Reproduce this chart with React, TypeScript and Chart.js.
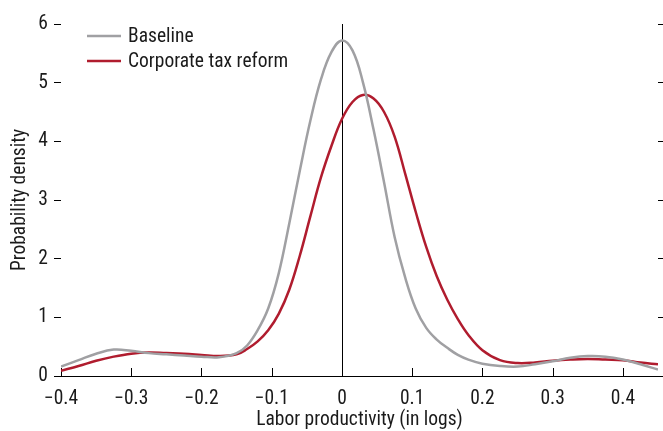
import React, { useEffect, useRef } from 'react';
import { Chart, registerables } from 'chart.js';

Chart.register(...registerables);

const xValues = [
  -0.4, -0.375, -0.35, -0.325, -0.3, -0.275, -0.25, -0.225, -0.2, -0.175, -0.15, -0.135, -0.12, -0.105,
  -0.09, -0.075, -0.06, -0.045, -0.03, -0.015, 0, 0.015, 0.03, 0.045, 0.06, 0.075, 0.09, 0.105, 0.12,
  0.135, 0.15, 0.165, 0.18, 0.2, 0.225, 0.25, 0.275, 0.3, 0.325, 0.35, 0.375, 0.4, 0.425, 0.45,
];
const baselineValues = [
  0.16, 0.27, 0.38, 0.45, 0.43, 0.39, 0.37, 0.35, 0.33, 0.32, 0.39, 0.52, 0.78, 1.15,
  1.75, 2.6, 3.5, 4.35, 5.05, 5.52, 5.72, 5.55, 5.0, 4.2, 3.3, 2.37, 1.68, 1.15, 0.82,
  0.62, 0.48, 0.36, 0.28, 0.21, 0.17, 0.16, 0.2, 0.25, 0.31, 0.34, 0.33, 0.28, 0.2, 0.11,
];
const reformValues = [
  0.09, 0.17, 0.26, 0.33, 0.38, 0.4, 0.39, 0.38, 0.36, 0.34, 0.37, 0.46, 0.59, 0.78,
  1.06, 1.47, 2.05, 2.72, 3.38, 3.92, 4.38, 4.67, 4.79, 4.73, 4.5, 4.08, 3.45, 2.8, 2.2,
  1.7, 1.3, 0.97, 0.7, 0.44, 0.27, 0.22, 0.23, 0.26, 0.28, 0.29, 0.28, 0.27, 0.23, 0.2,
];
const seriesLabels = ['Baseline', 'Corporate tax reform'];
const seriesColors = ['#a0a0a3', '#b01c2e'];
const xTickValues = [-0.4, -0.3, -0.2, -0.1, 0, 0.1, 0.2, 0.3, 0.4];
const xTickLabels = ['\u22120.4', '\u22120.3', '\u22120.2', '\u22120.1', '0', '0.1', '0.2', '0.3', '0.4'];
const yTickValues = [0, 1, 2, 3, 4, 5, 6];
const yTickLabels = ['0', '1', '2', '3', '4', '5', '6'];
const xTitle = 'Labor productivity (in logs)';
const yTitle = 'Probability density';

const TEXT = '#1a1a1a';

function pickFont(): { family: string; size: number } {
  const ctx = document.createElement('canvas').getContext('2d');
  const fallback = "'Liberation Sans', Arial, sans-serif";
  if (!ctx) return { family: fallback, size: 18 };
  const sample = 'Corporate tax reform 0123';
  const candidates = [
    'Liberation Sans Narrow',
    'Arial Narrow',
    'Roboto Condensed',
    'Noto Sans Condensed',
    'Open Sans Condensed',
    'DejaVu Sans Condensed',
  ];
  let family = fallback;
  for (const f of candidates) {
    ctx.font = '20px monospace';
    const w0 = ctx.measureText(sample).width;
    ctx.font = `20px "${f}", monospace`;
    const w1 = ctx.measureText(sample).width;
    if (Math.abs(w1 - w0) > 0.5) {
      family = `"${f}", ${fallback}`;
      break;
    }
  }
  ctx.font = `20px ${family}`;
  const w = ctx.measureText('Corporate tax reform').width;
  let size = (20 * 161) / w;
  size = Math.max(15, Math.min(20.5, size));
  size = Math.round(size * 2) / 2;
  return { family, size };
}

export default function App() {
  const ref = useRef<HTMLCanvasElement | null>(null);
  useEffect(() => {
    if (!ref.current) return;
    const { family, size } = pickFont();
    const font = { family, size };

    const decor = {
      id: 'decor',
      beforeDatasetsDraw(chart: any) {
        const { ctx, chartArea, scales } = chart;
        ctx.save();
        ctx.strokeStyle = '#000';
        ctx.lineWidth = 1;
        ctx.beginPath();
        const x0 = Math.round(scales.x.getPixelForValue(0)) + 0.5;
        ctx.moveTo(x0, chartArea.top);
        ctx.lineTo(x0, chartArea.bottom);
        scales.x.ticks.forEach((t: any) => {
          const px = Math.round(scales.x.getPixelForValue(t.value)) + 0.5;
          ctx.moveTo(px, chartArea.bottom);
          ctx.lineTo(px, chartArea.bottom - 8);
        });
        ctx.stroke();
        ctx.restore();
      },
      afterDraw(chart: any) {
        const { ctx, chartArea } = chart;
        ctx.save();
        chart.data.datasets.forEach((ds: any, i: number) => {
          const y = chartArea.top + 12 + i * 25;
          ctx.strokeStyle = ds.borderColor;
          ctx.lineWidth = 2.5;
          ctx.beginPath();
          ctx.moveTo(chartArea.left + 26, y);
          ctx.lineTo(chartArea.left + 60, y);
          ctx.stroke();
          ctx.fillStyle = TEXT;
          ctx.font = `${size}px ${family}`;
          ctx.textBaseline = 'middle';
          ctx.textAlign = 'left';
          ctx.fillText(ds.label, chartArea.left + 67, y + 1);
        });
        ctx.restore();
      },
    };

    const chart = new Chart(ref.current, {
      type: 'line',
      data: {
        datasets: [
          {
            label: seriesLabels[0],
            data: xValues.map((x, i) => ({ x, y: baselineValues[i] })),
            borderColor: seriesColors[0],
            borderWidth: 2.5,
            pointRadius: 0,
            tension: 0.4,
            fill: false,
          },
          {
            label: seriesLabels[1],
            data: xValues.map((x, i) => ({ x, y: reformValues[i] })),
            borderColor: seriesColors[1],
            borderWidth: 2.5,
            pointRadius: 0,
            tension: 0.4,
            fill: false,
          },
        ],
      },
      options: {
        responsive: false,
        animation: false,
        layout: { padding: { top: 24, left: 0, right: 0, bottom: 0 } },
        plugins: { legend: { display: false }, tooltip: { enabled: false } },
        scales: {
          x: {
            type: 'linear',
            min: -0.4,
            max: 0.45,
            afterFit: (s: any) => { s.height = 55; },
            afterBuildTicks: (s: any) => { s.ticks = xTickValues.map((v) => ({ value: v })); },
            ticks: {
              autoSkip: false,
              maxRotation: 0,
              padding: 11,
              color: TEXT,
              font,
              callback: (v: any) => {
                const i = xTickValues.findIndex((t) => Math.abs(t - Number(v)) < 1e-9);
                return i >= 0 ? xTickLabels[i] : '';
              },
            },
            grid: { display: false, drawTicks: false },
            border: { display: true, color: '#000', width: 1 },
            title: {
              display: true,
              text: xTitle,
              color: TEXT,
              font,
              padding: { top: 0, bottom: -1 },
            },
          },
          y: {
            type: 'linear',
            position: 'left',
            min: 0,
            max: 6,
            afterFit: (s: any) => { s.width = 61; },
            afterBuildTicks: (s: any) => { s.ticks = yTickValues.map((v) => ({ value: v })); },
            ticks: {
              padding: 6,
              color: TEXT,
              font,
              callback: (v: any) => {
                const i = yTickValues.indexOf(Number(v));
                return i >= 0 ? yTickLabels[i] : '';
              },
            },
            grid: { drawOnChartArea: false, drawTicks: true, tickLength: 7, color: '#000', lineWidth: 1 },
            border: { display: false },
            title: {
              display: true,
              text: yTitle,
              color: TEXT,
              font,
              padding: { top: 8, bottom: 0 },
            },
          },
          y2: {
            type: 'linear',
            position: 'right',
            min: 0,
            max: 6,
            afterFit: (s: any) => { s.width = 5; },
            afterBuildTicks: (s: any) => { s.ticks = yTickValues.map((v) => ({ value: v })); },
            ticks: { display: false },
            grid: { drawOnChartArea: false, drawTicks: true, tickLength: 5, color: '#000', lineWidth: 1 },
            border: { display: false },
          },
        },
      },
      plugins: [decor],
    } as any);
    return () => chart.destroy();
  }, []);
  return (
    <div style={{ position: 'fixed', left: 0, top: 0, width: 663, height: 431, background: '#fff' }}>
      <canvas ref={ref} width={663} height={431} style={{ width: 663, height: 431, display: 'block' }} />
    </div>
  );
}
